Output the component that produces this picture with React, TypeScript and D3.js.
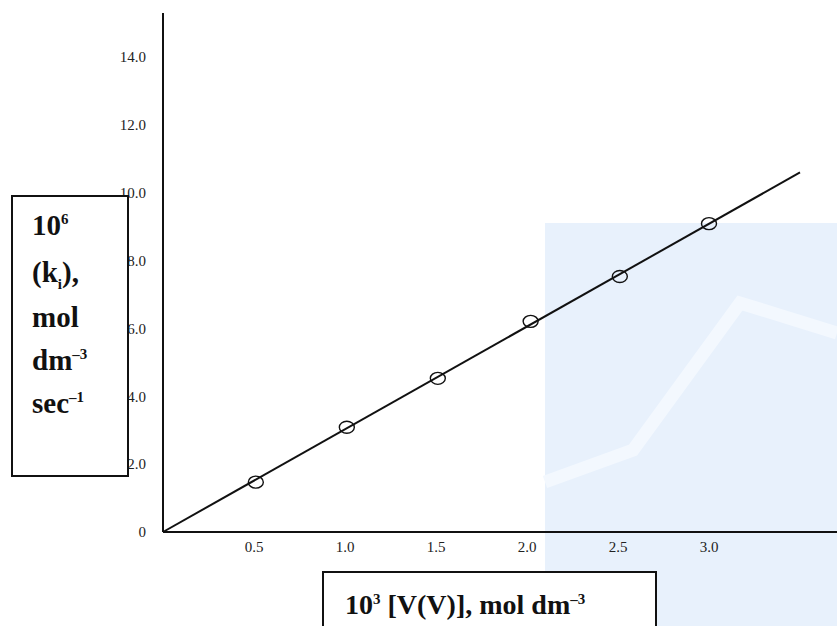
import React from 'react'
import * as d3 from 'd3'

const concV = [0.51, 1.01, 1.51, 2.02, 2.51, 3.0]
const rateK = [1.47, 3.09, 4.53, 6.21, 7.53, 9.09]

// least squares line through origin, drawn out to x = 3.5
const fitX = [0, 3.5]
const fitY = [0, 10.6]

const yTicks = [0, 2, 4, 6, 8, 10, 12, 14]
const yTickLabels = ['0', '2.0', '4.0', '6.0', '8.0', '10.0', '12.0', '14.0']
const xTicks = [0.5, 1.0, 1.5, 2.0, 2.5, 3.0]
const xTickLabels = ['0.5', '1.0', '1.5', '2.0', '2.5', '3.0']

const W = 837
const H = 626
const serif = "'Liberation Serif', 'Times New Roman', serif"

export default function App() {
  const x = d3.scaleLinear().domain([0, 3.7]).range([163, 836.4])
  const y = d3.scaleLinear().domain([0, 15.3]).range([532, 13])

  const line = d3.line<number>()
    .x((d, i) => x(fitX[i]))
    .y(d => y(d))

  const yLabelBase = [235, 282, 327, 370, 413]

  return (
    <svg width={W} height={H} style={{ position: 'absolute', left: 0, top: 0, display: 'block' }}
      fontFamily={serif}>
      <rect width={W} height={H} fill="#fff" />

      {/* faint watermark panel */}
      <rect x={545} y={223} width={W - 545} height={H - 223} fill="#e8f1fc" />
      <polyline points="545,482 633,450 740,303 837,333" fill="none" stroke="#f3f8fe" strokeWidth={13} />

      {/* axes */}
      <line x1={x(0)} x2={W} y1={y(0)} y2={y(0)} stroke="#111" strokeWidth={2} />
      <line x1={x(0)} x2={x(0)} y1={y(0)} y2={y(15.3)} stroke="#111" strokeWidth={2} />

      {yTicks.map((t, i) => (
        <text key={t} x={146} y={y(t)} dy="0.35em" textAnchor="end" fontSize={15} fill="#222">
          {yTickLabels[i]}
        </text>
      ))}
      {xTicks.map((t, i) => (
        <text key={t} x={x(t)} y={552} textAnchor="middle" fontSize={15} fill="#222">
          {xTickLabels[i]}
        </text>
      ))}

      <path d={line(fitY) || ''} fill="none" stroke="#111" strokeWidth={2} />

      {concV.map((v, i) => (
        <ellipse key={i} cx={x(v)} cy={y(rateK[i])} rx={7.5} ry={6}
          fill="none" stroke="#111" strokeWidth={1.4} />
      ))}

      {/* y title box */}
      <rect x={12} y={196} width={116} height={280} fill="#fff" stroke="#111" strokeWidth={2} />
      <g fontWeight="bold" fontSize={29} fill="#111">
        <text x={32} y={yLabelBase[0]}>10<tspan fontSize={15} dy={-11}>6</tspan></text>
        <text x={32} y={yLabelBase[1]}>(k<tspan fontSize={15} dy={7}>i</tspan><tspan dy={-7}>),</tspan></text>
        <text x={32} y={yLabelBase[2]}>mol</text>
        <text x={32} y={yLabelBase[3]}>dm<tspan fontSize={15} dy={-11}>–3</tspan></text>
        <text x={32} y={yLabelBase[4]}>sec<tspan fontSize={15} dy={-11}>–1</tspan></text>
      </g>

      {/* x title box */}
      <rect x={323} y={572} width={333} height={70} fill="#fff" stroke="#111" strokeWidth={2} />
      <text x={345} y={614} fontWeight="bold" fontSize={28} fill="#111">
        10<tspan fontSize={15} dy={-10}>3</tspan><tspan dy={10}> [V(V)], mol dm</tspan><tspan fontSize={15} dy={-10}>–3</tspan>
      </text>
    </svg>
  )
}
